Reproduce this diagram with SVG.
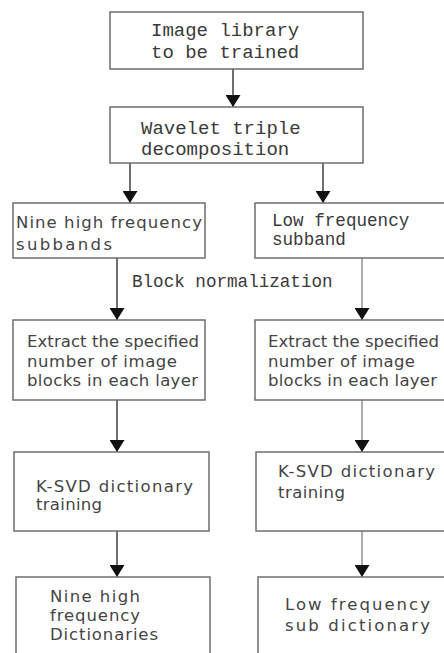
<svg xmlns="http://www.w3.org/2000/svg" width="444" height="653" viewBox="0 0 444 653">
<style>
.box{fill:#fff;stroke:#6e6e6e;stroke-width:1.5}
.mono{font-family:"Liberation Mono","DejaVu Sans Mono",monospace;fill:#3a3a3a}
.big{font-size:19px}
.mid{font-size:17.6px}
.sans{font-family:"DejaVu Sans","Noto Sans",sans-serif;font-size:16.5px;fill:#444}
.edge{stroke:#333;stroke-width:1.4;fill:none}
.edge.light{stroke:#8a8a8a}
</style>
<defs>
<marker id="tri" markerUnits="userSpaceOnUse" markerWidth="12" markerHeight="15" refX="12" refY="7.5" orient="auto" viewBox="0 0 12 15">
<path d="M0,0 L12,7.5 L0,15 Z" fill="#111"/>
</marker>
</defs>
<rect width="444" height="653" fill="#fff"/>
<g id="connectors">
<line class="edge" x1="233" y1="69" x2="233" y2="107" marker-end="url(#tri)"/>
<line class="edge" x1="130" y1="163" x2="130" y2="203" marker-end="url(#tri)"/>
<line class="edge" x1="323" y1="163" x2="323" y2="203" marker-end="url(#tri)"/>
<line class="edge" x1="117" y1="258" x2="117" y2="320" marker-end="url(#tri)"/>
<line class="edge light" x1="362" y1="258" x2="362" y2="320" marker-end="url(#tri)"/>
<line class="edge" x1="117" y1="400" x2="117" y2="452" marker-end="url(#tri)"/>
<line class="edge light" x1="362" y1="400" x2="362" y2="452" marker-end="url(#tri)"/>
<line class="edge" x1="117" y1="531" x2="117" y2="577" marker-end="url(#tri)"/>
<line class="edge light" x1="362" y1="531" x2="362" y2="577" marker-end="url(#tri)"/>
<text class="mono mid" x="132" y="287">Block normalization</text>
</g>
<g id="n1">
<rect class="box" x="110" y="12" width="253" height="57"/>
<text class="mono big" x="151" y="36">Image library</text>
<text class="mono big" x="151" y="57.5">to be trained</text>
</g>
<g id="n2">
<rect class="box" x="110" y="107" width="253" height="56"/>
<text class="mono big" x="141" y="133.5">Wavelet triple</text>
<text class="mono big" x="141" y="155">decomposition</text>
</g>
<g id="n3">
<rect class="box" x="13" y="203" width="192" height="55"/>
<text class="sans" x="16" y="228" textLength="186">Nine high frequency</text>
<text class="sans" x="16" y="250" textLength="96">subbands</text>
</g>
<g id="n4">
<rect class="box" x="255" y="203" width="192" height="55"/>
<text class="mono mid" x="272" y="225.5">Low frequency</text>
<text class="mono mid" x="272" y="245">subband</text>
</g>
<g id="n5">
<rect class="box" x="13" y="320" width="192" height="80"/>
<text class="sans" x="27" y="346.5" textLength="172">Extract the specified</text>
<text class="sans" x="27" y="366.5" textLength="150">number of image</text>
<text class="sans" x="27" y="385.5" textLength="171">blocks in each layer</text>
</g>
<g id="n6">
<rect class="box" x="255" y="320" width="192" height="80"/>
<text class="sans" x="268" y="346.5" textLength="171">Extract the specified</text>
<text class="sans" x="268" y="366.5" textLength="147">number of image</text>
<text class="sans" x="268" y="385.5" textLength="169">blocks in each layer</text>
</g>
<g id="n7">
<rect class="box" x="14" y="452" width="195" height="79"/>
<text class="sans" x="36" y="491.5" textLength="157">K-SVD dictionary</text>
<text class="sans" x="36" y="510" textLength="66">training</text>
</g>
<g id="n8">
<rect class="box" x="256" y="452" width="191" height="79"/>
<text class="sans" x="278" y="477" textLength="157">K-SVD dictionary</text>
<text class="sans" x="278" y="498" textLength="67">training</text>
</g>
<g id="n9">
<rect class="box" x="16" y="577" width="194" height="90"/>
<text class="sans" x="50" y="602" textLength="90">Nine high</text>
<text class="sans" x="50" y="621" textLength="90">frequency</text>
<text class="sans" x="50" y="640" textLength="108">Dictionaries</text>
</g>
<g id="n10">
<rect class="box" x="258" y="577" width="189" height="90"/>
<text class="sans" x="285" y="610" textLength="145">Low frequency</text>
<text class="sans" x="285" y="631" textLength="145">sub dictionary</text>
</g>
</svg>
